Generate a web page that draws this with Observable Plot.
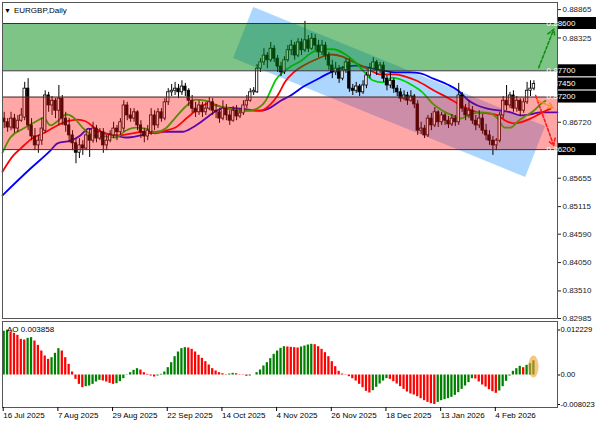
<!DOCTYPE html>
<html><head><meta charset="utf-8">
<script src="https://cdn.jsdelivr.net/npm/d3@7"></script>
<script src="https://cdn.jsdelivr.net/npm/@observablehq/plot@0.6"></script>
<style>
body{margin:0;background:#fff;}
#wrap{position:relative;width:596px;height:425px;overflow:hidden;font-family:"Liberation Sans",Arial,sans-serif;background:#fff;}
#main{position:absolute;left:0;top:0;}
#osc{position:absolute;left:0;top:318px;}
#title{position:absolute;left:4px;top:6px;font-size:8px;color:#000;white-space:nowrap;}
#title .tri{font-size:7px;margin-right:3px;}
#aolabel{position:absolute;left:7px;top:325px;font-size:8px;color:#000;white-space:nowrap;}
</style></head><body>
<div id="wrap"><div id="main"></div><div id="osc"></div>
<div id="title"><span class="tri">&#9660;</span>EURGBP,Daily</div>
<div id="aolabel"></div></div>
<script>
// ---- daily OHLC (bar index 0 = 16 Jul 2025) ----
const open = [0.8679,0.8672,0.8662,0.8679,0.8660,0.8675,0.8681,0.8736,0.8666,0.8645,
0.8628,0.8637,0.8656,0.8723,0.8704,0.8713,0.8694,0.8717,0.8679,0.8666,
0.8647,0.8632,0.8614,0.8628,0.8622,0.8647,0.8637,0.8660,0.8641,0.8653,
0.8628,0.8637,0.8647,0.8660,0.8653,0.8660,0.8704,0.8685,0.8679,0.8691,
0.8666,0.8653,0.8645,0.8653,0.8685,0.8666,0.8691,0.8679,0.8710,0.8729,
0.8732,0.8736,0.8729,0.8740,0.8732,0.8713,0.8698,0.8691,0.8704,0.8691,
0.8698,0.8710,0.8694,0.8691,0.8679,0.8698,0.8685,0.8675,0.8694,0.8683,
0.8689,0.8704,0.8713,0.8729,0.8729,0.8774,0.8786,0.8799,0.8790,0.8812,
0.8793,0.8778,0.8767,0.8790,0.8809,0.8818,0.8799,0.8824,0.8809,0.8828,
0.8812,0.8831,0.8818,0.8805,0.8818,0.8799,0.8780,0.8767,0.8774,0.8755,
0.8771,0.8786,0.8736,0.8732,0.8740,0.8729,0.8742,0.8761,0.8774,0.8786,
0.8771,0.8780,0.8755,0.8742,0.8751,0.8736,0.8729,0.8717,0.8723,0.8713,
0.8721,0.8706,0.8656,0.8660,0.8647,0.8679,0.8666,0.8691,0.8672,0.8685,
0.8675,0.8668,0.8679,0.8672,0.8723,0.8698,0.8685,0.8694,0.8675,0.8666,
0.8679,0.8656,0.8647,0.8637,0.8628,0.8637,0.8685,0.8713,0.8704,0.8723,
0.8698,0.8713,0.8694,0.8710,0.8732,0.8736];
const high = [0.8691,0.8679,0.8691,0.8687,0.8685,0.8698,0.8748,0.8755,0.8679,0.8660,
0.8647,0.8679,0.8732,0.8729,0.8721,0.8717,0.8742,0.8723,0.8691,0.8679,
0.8656,0.8641,0.8641,0.8637,0.8656,0.8660,0.8672,0.8666,0.8660,0.8660,
0.8647,0.8656,0.8672,0.8666,0.8679,0.8713,0.8710,0.8698,0.8698,0.8694,
0.8675,0.8660,0.8666,0.8698,0.8694,0.8698,0.8698,0.8717,0.8736,0.8744,
0.8748,0.8744,0.8751,0.8746,0.8736,0.8723,0.8710,0.8713,0.8710,0.8710,
0.8719,0.8717,0.8706,0.8698,0.8713,0.8706,0.8694,0.8702,0.8704,0.8698,
0.8713,0.8723,0.8736,0.8738,0.8782,0.8793,0.8812,0.8805,0.8824,0.8818,
0.8799,0.8786,0.8797,0.8818,0.8828,0.8824,0.8831,0.8831,0.8864,0.8837,
0.8841,0.8839,0.8828,0.8828,0.8824,0.8805,0.8790,0.8786,0.8780,0.8778,
0.8793,0.8793,0.8744,0.8748,0.8744,0.8751,0.8767,0.8784,0.8795,0.8790,
0.8786,0.8786,0.8761,0.8767,0.8755,0.8742,0.8736,0.8732,0.8729,0.8732,
0.8725,0.8713,0.8672,0.8666,0.8685,0.8689,0.8700,0.8694,0.8691,0.8689,
0.8683,0.8687,0.8685,0.8746,0.8729,0.8706,0.8713,0.8702,0.8685,0.8694,
0.8687,0.8668,0.8656,0.8645,0.8641,0.8691,0.8721,0.8742,0.8729,0.8732,
0.8721,0.8717,0.8717,0.8748,0.8751,0.8751];
const low = [0.8660,0.8653,0.8656,0.8651,0.8653,0.8672,0.8675,0.8656,0.8637,0.8618,
0.8613,0.8628,0.8651,0.8691,0.8685,0.8679,0.8666,0.8666,0.8653,0.8633,
0.8618,0.8593,0.8603,0.8609,0.8618,0.8605,0.8632,0.8633,0.8637,0.8613,
0.8618,0.8633,0.8641,0.8637,0.8647,0.8653,0.8675,0.8672,0.8672,0.8656,
0.8641,0.8633,0.8637,0.8647,0.8656,0.8660,0.8672,0.8675,0.8704,0.8721,
0.8723,0.8717,0.8723,0.8721,0.8702,0.8689,0.8681,0.8685,0.8681,0.8685,
0.8694,0.8685,0.8679,0.8670,0.8675,0.8675,0.8666,0.8672,0.8675,0.8679,
0.8685,0.8698,0.8710,0.8723,0.8727,0.8767,0.8780,0.8774,0.8786,0.8786,
0.8767,0.8759,0.8763,0.8786,0.8799,0.8790,0.8795,0.8799,0.8805,0.8805,
0.8809,0.8809,0.8795,0.8799,0.8790,0.8771,0.8755,0.8761,0.8746,0.8751,
0.8765,0.8729,0.8723,0.8727,0.8721,0.8725,0.8736,0.8755,0.8771,0.8761,
0.8765,0.8748,0.8732,0.8736,0.8727,0.8721,0.8710,0.8713,0.8704,0.8710,
0.8698,0.8647,0.8649,0.8641,0.8643,0.8656,0.8662,0.8662,0.8666,0.8666,
0.8660,0.8664,0.8664,0.8666,0.8691,0.8675,0.8679,0.8668,0.8656,0.8660,
0.8649,0.8637,0.8628,0.8609,0.8618,0.8633,0.8679,0.8694,0.8698,0.8691,
0.8691,0.8683,0.8689,0.8706,0.8721,0.8732];
const close = [0.8672,0.8662,0.8679,0.8660,0.8675,0.8685,0.8736,0.8666,0.8645,0.8628,
0.8637,0.8660,0.8723,0.8704,0.8713,0.8694,0.8717,0.8679,0.8666,0.8647,
0.8632,0.8614,0.8628,0.8622,0.8647,0.8637,0.8660,0.8641,0.8653,0.8628,
0.8637,0.8647,0.8660,0.8653,0.8672,0.8704,0.8685,0.8679,0.8691,0.8666,
0.8653,0.8645,0.8656,0.8685,0.8666,0.8691,0.8679,0.8710,0.8729,0.8732,
0.8736,0.8729,0.8740,0.8732,0.8713,0.8698,0.8691,0.8704,0.8691,0.8698,
0.8710,0.8694,0.8691,0.8679,0.8698,0.8685,0.8675,0.8694,0.8683,0.8689,
0.8704,0.8713,0.8729,0.8732,0.8774,0.8786,0.8799,0.8790,0.8812,0.8793,
0.8778,0.8767,0.8790,0.8809,0.8818,0.8799,0.8824,0.8809,0.8828,0.8812,
0.8831,0.8818,0.8805,0.8818,0.8799,0.8780,0.8767,0.8774,0.8755,0.8771,
0.8786,0.8736,0.8732,0.8740,0.8729,0.8742,0.8761,0.8774,0.8786,0.8771,
0.8780,0.8755,0.8742,0.8751,0.8736,0.8729,0.8717,0.8723,0.8713,0.8721,
0.8706,0.8656,0.8660,0.8647,0.8679,0.8666,0.8691,0.8672,0.8685,0.8675,
0.8668,0.8679,0.8672,0.8723,0.8698,0.8685,0.8694,0.8675,0.8666,0.8679,
0.8656,0.8647,0.8637,0.8628,0.8637,0.8685,0.8713,0.8704,0.8723,0.8698,
0.8713,0.8694,0.8710,0.8732,0.8736,0.8745];

// ---- Alligator lines: [bar index, price] ----
const jaw = [[-0.5,0.8533],[7.7,0.8584],[13.5,0.8618],[15.6,0.8632],[19.4,0.8637],[22.3,0.8647],[24.7,0.8660],[27.3,0.8653],[31.1,0.8649],[35.5,0.8643],[39.9,0.8647],[44.9,0.8654],[49.3,0.8654],[52.2,0.8654],[55.1,0.8662],[58.9,0.8679],[61.8,0.8693],[64.8,0.8700],[69.2,0.8698],[75.0,0.8694],[77.9,0.8700],[80.9,0.8713],[83.8,0.8723],[87.6,0.8740],[91.1,0.8752],[94.9,0.8765],[99.0,0.8776],[102.8,0.8780],[106.6,0.8776],[110.7,0.8771],[114.5,0.8767],[118.9,0.8767],[121.8,0.8765],[125.6,0.8755],[129.7,0.8744],[132.7,0.8733],[135.6,0.8715],[138.5,0.8704],[141.4,0.8698],[145.2,0.8694],[148.2,0.8691],[151.1,0.8685],[154.0,0.8687],[156.9,0.8691],[161.9,0.8691]];
const teeth = [[-0.5,0.8578],[2.7,0.8609],[4.8,0.8622],[8.6,0.8643],[11.5,0.8651],[15.0,0.8664],[18.5,0.8674],[21.5,0.8677],[23.8,0.8674],[26.7,0.8660],[29.6,0.8651],[33.5,0.8647],[37.6,0.8651],[40.8,0.8654],[44.3,0.8651],[47.2,0.8656],[50.1,0.8662],[53.6,0.8681],[56.9,0.8698],[59.8,0.8708],[64.2,0.8700],[69.2,0.8694],[75.0,0.8694],[77.9,0.8706],[80.0,0.8723],[82.3,0.8750],[84.7,0.8767],[87.6,0.8780],[91.7,0.8793],[95.5,0.8801],[99.0,0.8797],[101.9,0.8788],[105.7,0.8776],[110.1,0.8763],[114.5,0.8763],[117.4,0.8759],[120.4,0.8752],[123.3,0.8742],[125.6,0.8733],[129.7,0.8719],[132.7,0.8708],[135.6,0.8698],[138.5,0.8691],[141.4,0.8689],[144.4,0.8685],[146.7,0.8675],[149.0,0.8670],[151.1,0.8672],[154.0,0.8679],[156.9,0.8689],[159.9,0.8698]];
const lips = [[-0.5,0.8614],[1.8,0.8643],[5.6,0.8660],[9.7,0.8675],[11.5,0.8681],[13.5,0.8666],[15.6,0.8674],[18.2,0.8687],[20.3,0.8681],[23.2,0.8660],[26.1,0.8647],[29.6,0.8645],[32.6,0.8643],[35.5,0.8656],[38.4,0.8662],[41.4,0.8660],[44.3,0.8653],[47.2,0.8660],[50.1,0.8681],[53.1,0.8702],[56.0,0.8715],[58.9,0.8713],[61.8,0.8704],[64.8,0.8700],[68.3,0.8694],[71.5,0.8694],[74.5,0.8700],[76.5,0.8713],[78.0,0.8733],[79.4,0.8752],[81.5,0.8767],[83.8,0.8778],[86.7,0.8788],[89.6,0.8803],[92.6,0.8811],[96.1,0.8811],[99.9,0.8801],[102.8,0.8786],[105.2,0.8769],[107.8,0.8752],[110.7,0.8748],[113.6,0.8757],[116.6,0.8752],[119.5,0.8742],[122.4,0.8729],[125.3,0.8708],[128.3,0.8694],[131.2,0.8685],[133.5,0.8679],[136.5,0.8687],[139.4,0.8691],[142.3,0.8689],[144.4,0.8679],[146.4,0.8662],[148.2,0.8662],[150.5,0.8675],[152.8,0.8685],[154.9,0.8694],[156.9,0.8706],[158.4,0.8713]];

// ---- Awesome Oscillator ----
const ao = [0.0119,0.0122,0.01169,0.01133,0.01078,0.00969,0.00951,0.00997,0.01015,0.00924,
0.00806,0.00652,0.00516,0.00426,0.00471,0.00589,0.00716,0.00652,0.00471,0.00290,
0.00082,-0.00118,-0.00254,-0.00344,-0.00317,-0.00299,-0.00254,-0.00190,-0.00145,-0.00163,
-0.00190,-0.00227,-0.00254,-0.00236,-0.00181,-0.00100,-0.00009,0.00063,0.00127,0.00172,
0.00136,0.00063,0.00018,-0.00027,-0.00054,-0.00027,0.00018,0.00082,0.00199,0.00335,
0.00498,0.00625,0.00716,0.00743,0.00734,0.00698,0.00625,0.00535,0.00453,0.00362,
0.00272,0.00172,0.00109,0.00063,0.00036,0.00009,0.00027,0.00045,0.00036,0.00009,
-0.00009,-0.00036,-0.00027,0.00000,0.00063,0.00136,0.00245,0.00335,0.00444,0.00562,
0.00652,0.00725,0.00770,0.00761,0.00752,0.00743,0.00734,0.00761,0.00788,0.00815,
0.00834,0.00824,0.00770,0.00698,0.00607,0.00498,0.00362,0.00227,0.00100,0.00027,
-0.00009,-0.00045,-0.00100,-0.00163,-0.00254,-0.00344,-0.00444,-0.00489,-0.00426,-0.00335,
-0.00245,-0.00163,-0.00100,-0.00118,-0.00181,-0.00245,-0.00317,-0.00390,-0.00462,-0.00516,
-0.00544,-0.00589,-0.00643,-0.00698,-0.00743,-0.00779,-0.00802,-0.00743,-0.00698,-0.00670,
-0.00643,-0.00607,-0.00553,-0.00480,-0.00390,-0.00299,-0.00208,-0.00100,-0.00109,-0.00190,
-0.00272,-0.00326,-0.00399,-0.00453,-0.00498,-0.00435,-0.00317,-0.00172,-0.00027,0.00100,
0.00172,0.00236,0.00199,0.00263,0.00308,0.003858];

// ---- annotations ----
const zoneLow  = [0.8770, 0.8620];
const zoneHigh = [0.8860, 0.8720];
const zoneColor = ["#008a10", "#ff1010"];
const zoneOpacity = [0.5, 0.37];
const levelLines = [0.8860, 0.8770, 0.8720, 0.8620];
const channelBar  = [67.1, 73.0, 152.6, 158.4];
const channelLow  = [0.87934, 0.87779, 0.85669, 0.86639];
const channelHigh = [0.87934, 0.88905, 0.86793, 0.86639];
const arrowFromBar = [156.4, 155.5, 156.2];
const arrowFromPrice = [0.8776, 0.8723, 0.8713];
const arrowToBar = [160.8, 160.8, 160.6];
const arrowToPrice = [0.8849, 0.8628, 0.8700];
const arrowColor = ["#109010", "#ff1a1a", "#ff8c1a"];

// ---- axes (ticks hidden behind the price boxes are left out) ----
const priceTicks = [0.88865,0.88325,0.86720,0.85655,0.85115,0.84590,0.84050,0.83510,0.82985];
const oscTicks = [0.012229, 0, -0.008023];
const oscTickLabels = ["0.012229", "0.00", "-0.008023"];
const dateTickBars = [0,16,32,48,64,80,96,112,128,144];
const dateLabels = ["16 Jul 2025","7 Aug 2025","29 Aug 2025","22 Sep 2025","14 Oct 2025","4 Nov 2025","26 Nov 2025","18 Dec 2025","13 Jan 2026","4 Feb 2026"];

const N = close.length;
const bars = close.map((c, i) => ({i, o: open[i], h: high[i], l: low[i], c}));
const zones = zoneLow.map((lo, k) => ({lo, hi: zoneHigh[k], color: zoneColor[k], op: zoneOpacity[k]}));
const channel = channelBar.map((b, k) => ({b, lo: channelLow[k], hi: channelHigh[k]}));
const arrows = arrowFromBar.map((b, k) => ({b1: b, p1: arrowFromPrice[k], b2: arrowToBar[k], p2: arrowToPrice[k], color: arrowColor[k]}));
const toPts = arr => arr.map(([b, p]) => ({b, p}));
const xDomain = [-0.5, 161.9];
const font = "'Liberation Sans', Arial, sans-serif";

const mainPlot = Plot.plot({
  width: 596, height: 320,
  marginLeft: 2, marginRight: 39, marginTop: 2, marginBottom: 2,
  x: {domain: xDomain, axis: null},
  y: {domain: [0.82985, 0.8900]},
  style: {fontFamily: font, fontSize: "8px", background: "transparent", overflow: "visible"},
  marks: [
    Plot.areaY(channel, {x: "b", y1: "lo", y2: "hi", fill: "#3399ff", fillOpacity: 0.4, curve: "linear"}),
    Plot.line(toPts(jaw), {x: "b", y: "p", stroke: "#0000ff", strokeWidth: 1.8, curve: "monotone-x"}),
    Plot.line(toPts(teeth), {x: "b", y: "p", stroke: "#ff0000", strokeWidth: 1.8, curve: "monotone-x"}),
    Plot.line(toPts(lips), {x: "b", y: "p", stroke: "#00d000", strokeWidth: 1.8, curve: "monotone-x"}),
    Plot.ruleX(bars, {x: "i", y1: "l", y2: "h", stroke: "#000", strokeWidth: 1}),
    Plot.rect(bars, {x1: d => d.i - 0.36, x2: d => d.i + 0.36, y1: "o", y2: "c",
      fill: d => d.c >= d.o ? "#fff" : "#000", stroke: "#000", strokeWidth: 0.8}),
    ...zones.map(z => Plot.rect([z], {y1: "lo", y2: "hi", fill: z.color, fillOpacity: z.op})),
    Plot.ruleY(levelLines, {stroke: "#333", strokeWidth: 1}),
    ...arrows.map(a => Plot.arrow([a], {x1: "b1", y1: "p1", x2: "b2", y2: "p2", stroke: a.color,
      strokeWidth: 1.6, strokeDasharray: "3,2", headLength: 7})),
    Plot.frame({stroke: "#555"}),
    Plot.axisY(priceTicks, {anchor: "right", tickSize: 3, tickPadding: 2, fontSize: 8,
      tickFormat: d => d.toFixed(5), label: null, color: "#222"})
  ]
});
// price boxes on the axis (level lines + last close)
{
  const yS = mainPlot.scale("y");
  const g = d3.select(mainPlot).append("g").attr("font-size", 8).attr("font-family", font);
  [...levelLines, close[N - 1]].forEach(v => {
    const y = yS.apply(v);
    g.append("rect").attr("x", 558).attr("y", y - 6).attr("width", 38).attr("height", 12).attr("fill", "#000");
    g.append("text").attr("x", 561).attr("y", y).attr("dy", "0.35em").attr("fill", "#fff").text(v.toFixed(5));
  });
}
document.getElementById("main").appendChild(mainPlot);

const aoData = ao.map((v, i) => ({i, v, up: i === 0 || v > ao[i - 1]}));
const oscPlot = Plot.plot({
  width: 596, height: 107,
  marginLeft: 2, marginRight: 39, marginTop: 3, marginBottom: 18,
  x: {domain: xDomain},
  y: {domain: [-0.00883, 0.01454]},
  style: {fontFamily: font, fontSize: "8px", background: "transparent", overflow: "visible"},
  marks: [
    Plot.rect(aoData, {x1: d => d.i - 0.33, x2: d => d.i + 0.33, y1: 0, y2: "v",
      fill: d => d.up ? "#008000" : "#ff0000"}),
    Plot.rect([aoData[N - 1]], {x1: d => d.i - 1.5, x2: d => d.i + 1.5, y1: -0.0008, y2: d => d.v + 0.0013,
      rx: 5, ry: 11, fill: "#f0a030", fillOpacity: 0.6}),
    Plot.frame({stroke: "#555"}),
    Plot.axisY(oscTicks, {anchor: "right", tickSize: 2, tickPadding: 1, fontSize: 7.6,
      tickFormat: d => oscTickLabels[oscTicks.indexOf(d)], label: null}),
    Plot.axisX(dateTickBars, {anchor: "bottom", tickSize: 4, tickPadding: 1, fontSize: 8,
      tickFormat: d => dateLabels[dateTickBars.indexOf(d)], textAnchor: "start", dx: -1, label: null})
  ]
});
document.getElementById("osc").appendChild(oscPlot);
document.getElementById("aolabel").textContent = "AO " + ao[N - 1].toFixed(6);
</script>
</body></html>
